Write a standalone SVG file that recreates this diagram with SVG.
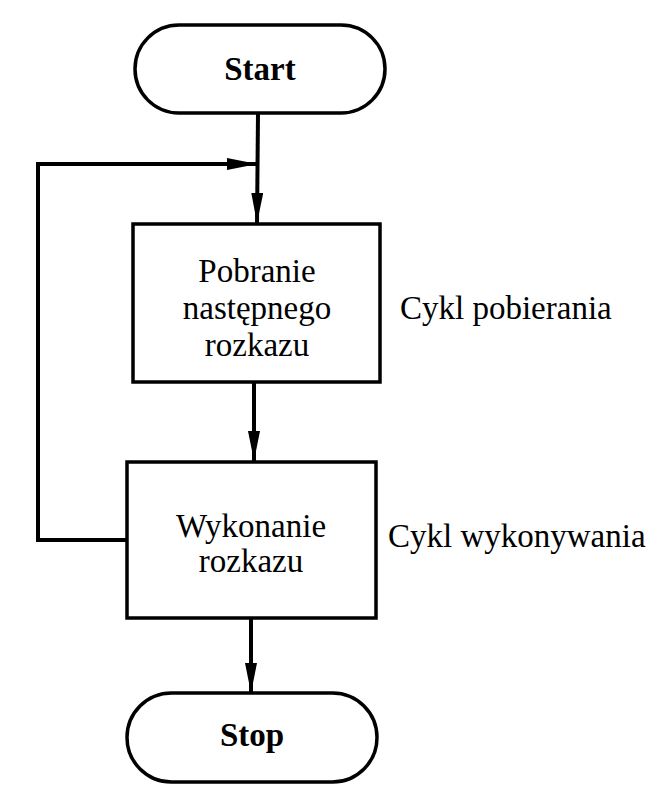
<svg xmlns="http://www.w3.org/2000/svg" width="672" height="810" viewBox="0 0 672 810">
<defs>
<marker id="arr" viewBox="0 0 30 12" refX="30" refY="6" markerWidth="30" markerHeight="12" markerUnits="userSpaceOnUse" orient="auto">
<path d="M0,0 L30,6 L0,12 Z" fill="#000"/>
</marker>
</defs>
<style>
.shape{fill:#fff;stroke:#000;stroke-width:3.5}
.line{fill:none;stroke:#000;stroke-width:4}
.t{font-family:"Liberation Serif","Times New Roman",serif;font-size:33px;fill:#000;text-anchor:middle}
.b{font-weight:bold}
.lbl{text-anchor:start}
</style>
<rect width="672" height="810" fill="#fff"/>
<g id="connectors">
<line class="line" x1="258" y1="113" x2="257" y2="223" marker-end="url(#arr)"/>
<polyline class="line" points="128,540 38,540 38,164 257,164" marker-end="url(#arr)"/>
<line class="line" x1="254" y1="382" x2="254" y2="461" marker-end="url(#arr)"/>
<line class="line" x1="251" y1="618" x2="251" y2="693" marker-end="url(#arr)"/>
</g>
<g id="start">
<rect class="shape" x="135" y="25" width="250" height="88" rx="44" ry="44"/>
<text class="t b" x="260" y="80">Start</text>
</g>
<g id="fetch">
<rect class="shape" x="133" y="224" width="247" height="158"/>
<text class="t" x="257" y="282">Pobranie</text>
<text class="t" x="257" y="319">następnego</text>
<text class="t" x="257" y="356">rozkazu</text>
</g>
<g id="execute">
<rect class="shape" x="127" y="462" width="249" height="156"/>
<text class="t" x="251" y="537">Wykonanie</text>
<text class="t" x="251" y="572">rozkazu</text>
</g>
<g id="stop">
<rect class="shape" x="127" y="693" width="250" height="89" rx="44.5" ry="44.5"/>
<text class="t b" x="252" y="746">Stop</text>
</g>
<g id="labels">
<text class="t lbl" x="400" y="319">Cykl pobierania</text>
<text class="t lbl" x="388" y="547">Cykl wykonywania</text>
</g>
</svg>
